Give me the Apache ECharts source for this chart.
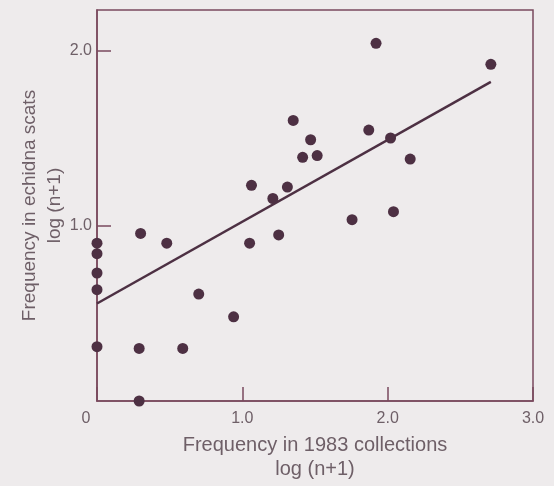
<!DOCTYPE html>
<html>
<head>
<meta charset="utf-8">
<script src="https://cdn.jsdelivr.net/npm/echarts@6/dist/echarts.min.js"></script>
<style>
  html, body { margin: 0; padding: 0; background: #eeebec; }
  #chart { width: 554px; height: 486px; }
</style>
</head>
<body>
<div id="chart"></div>
<script>
// log(n+1) frequency in 1983 collections (x) vs echidna scats (y)
var xValues = [0, 0, 0, 0, 0, 0.30, 0.48, 1.05, 0.70, 0.94, 0.29, 0.59, 0.29,
  1.35, 1.47, 1.415, 1.515, 1.87, 2.02, 2.155, 1.063, 1.31, 1.21, 1.755, 2.04, 1.25, 1.92, 2.71];
var yValues = [0.90, 0.84, 0.73, 0.635, 0.31, 0.956, 0.90, 0.90, 0.61, 0.48, 0.30, 0.30, 0.0,
  1.60, 1.49, 1.39, 1.40, 1.545, 1.50, 1.38, 1.23, 1.22, 1.155, 1.034, 1.08, 0.947, 2.04, 1.92];
// fitted regression line end points
var fitX = [0, 2.71];
var fitY = [0.556, 1.82];

var ink = "#4d3043";
var axisColor = "#7a4a5e";
var textColor = "#6e5f67";

var chart = echarts.init(document.getElementById("chart"));
chart.setOption({
  backgroundColor: "#eeebec",
  animation: false,
  grid: {
    left: 97,
    right: 21,
    top: 10,
    bottom: 85,
    containLabel: false,
    outerBoundsMode: "none",
    show: true,
    borderColor: axisColor,
    borderWidth: 1.5,
    backgroundColor: "transparent",
  },
  xAxis: {
    type: "value",
    min: 0,
    max: 3,
    interval: 1,
    splitLine: { show: false },
    axisLine: { lineStyle: { color: axisColor, width: 1.5 } },
    axisTick: { show: true, inside: true, length: 14, lineStyle: { color: axisColor, width: 1.5 } },
    axisLabel: {
      color: textColor,
      fontFamily: "Liberation Sans",
      fontSize: 16,
      margin: 10,
      formatter: function (v) {
        return v === 0 ? "{z|0}" : v.toFixed(1);
      },
      rich: {
        z: { padding: [0, 22, 0, 0], color: textColor, fontSize: 16, fontFamily: "Liberation Sans" },
      },
    },
    name: "Frequency in 1983 collections\nlog (n+1)",
    nameLocation: "middle",
    nameGap: 32,
    nameMoveOverlap: false,
    nameTextStyle: {
      color: textColor,
      fontFamily: "Liberation Sans",
      fontSize: 20,
      lineHeight: 24,
    },
  },
  yAxis: {
    type: "value",
    min: 0,
    max: 2.23,
    interval: 1,
    splitLine: { show: false },
    axisLine: { lineStyle: { color: axisColor, width: 1.5 } },
    axisTick: { show: true, inside: true, length: 14, lineStyle: { color: axisColor, width: 1.5 } },
    axisLabel: {
      color: textColor,
      fontFamily: "Liberation Sans",
      fontSize: 16,
      margin: 5,
      showMinLabel: false,
      showMaxLabel: false,
      formatter: function (v) {
        return v.toFixed(1);
      },
    },
    name: "Frequency in echidna scats\nlog (n+1)",
    nameLocation: "middle",
    nameRotate: 90,
    nameGap: 30,
    nameMoveOverlap: false,
    nameTextStyle: {
      color: textColor,
      fontFamily: "Liberation Sans",
      fontSize: 19,
      lineHeight: 25,
    },
  },
  series: [
    {
      type: "line",
      data: fitX.map(function (x, i) { return [x, fitY[i]]; }),
      symbol: "none",
      lineStyle: { color: ink, width: 2.5 },
      z: 2,
    },
    {
      type: "scatter",
      data: xValues.map(function (x, i) { return [x, yValues[i]]; }),
      symbolSize: 11,
      clip: false,
      itemStyle: { color: ink, opacity: 1 },
      z: 3,
    },
  ],
});
</script>
</body>
</html>
